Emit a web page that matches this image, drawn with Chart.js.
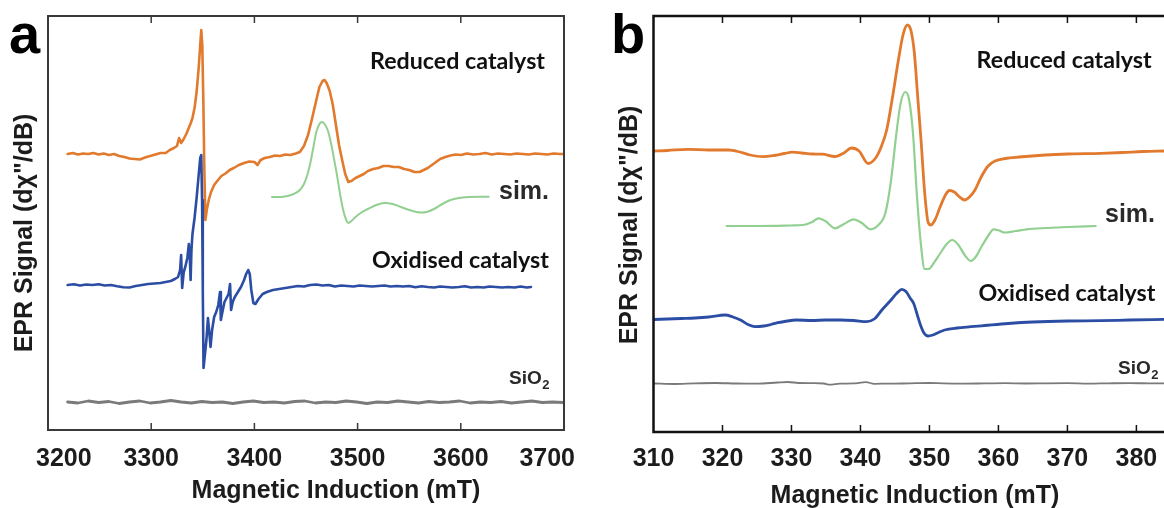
<!DOCTYPE html>
<html><head><meta charset="utf-8">
<script src="https://cdn.jsdelivr.net/npm/chart.js@4.4.1/dist/chart.umd.min.js"></script>
<style>
html,body{margin:0;padding:0;background:#fff;width:1164px;height:508px;overflow:hidden}
#wa{position:absolute;left:0;top:0;width:580px;height:508px}
#wb{position:absolute;left:580px;top:0;width:584px;height:508px}
canvas{display:block}
</style></head><body>
<div id="wa"><canvas id="ca" width="580" height="508"></canvas></div>
<div id="wb"><canvas id="cb" width="584" height="508"></canvas></div>
<script>
// ---------- Panel a (mT) ----------
const aTicks = [3200, 3300, 3400, 3500, 3600, 3700];

const aReducedField = [3219,3224,3229,3234,3239,3244,3249,3254,3259,3264,
  3269,3274,3279,3284,3289,3294,3299,3304,3309,3314,
  3318,3322,3325,3327,3329,3331,3334,3336,3338,3340,
  3342,3344,3346,3347.5,3348.5,3349.5,3350.5,3351.5,3352.5,3354,
  3356,3358,3361,3364,3368,3372,3376,3380,3385,3390,
  3395,3400,3403,3406,3410,3415,3420,3425,3430,3435,
  3440,3444,3448,3452,3456,3460,3463,3466,3468,3470,
  3473,3476,3479,3482,3485,3488,3491,3494,3498,3502,
  3506,3510,3515,3520,3525,3530,3535,3540,3545,3550,
  3555,3560,3564,3568,3572,3576,3580,3585,3590,3595,
  3600,3606,3612,3618,3624,3630,3636,3642,3648,3654,
  3660,3666,3672,3678,3684,3690,3696,3700];
const aReducedSignal = [276,277,275.5,276.5,276,277,275.5,276.5,275,276,
  274,273,271.5,271,270.5,272.5,274,275.5,277,277,
  280,282,284,292,287,290,296,301,306,312,
  322,338,362,385,400,385,330,260,210,221,
  231,238,245,249,254,256.5,260,262,265,267,
  268.5,268,265,270,272,273,274.5,274,275.5,275,
  276.5,278,284,295,312,330,343,349,350,347,
  339,325,305,285,270,256,248,249,252,254,
  256,259,261,262,264,264,263,263,261,260,
  258,258,260,262,265,268,271,273,274.5,275.5,
  275,276.5,275.5,276,277,275.5,276.5,276,275.5,276.5,
  276,275.5,276.5,276,275.5,276.5,276,276];

const aSimField = [3417,3425,3432,3438,3444,3448,3451,3454,3457,3460,
  3463,3465.5,3468,3471,3474,3477,3480,3483,3486,3489,
  3491,3494,3498,3503,3510,3518,3526,3534,3542,3550,
  3557,3562,3567,3574,3582,3590,3598,3608,3618,3627];
const aSimSignal = [233,233,234,236,240,246,254,266,282,298,
  306,308,306,300,288,272,255,236,220,210,
  207,209,213,217,221,225,227,226,223,220,
  218,217.5,218,221,226,230,232,233,233.3,233.3];

const aOxidisedField = [3219,3225,3231,3237,3243,3249,3255,3261,3267,3273,
  3279,3285,3291,3297,3303,3309,3314,3319,3323,3326,
  3328,3329,3330,3331.5,3333,3335,3336.5,3337.5,3338.2,3339,
  3340,3342,3344,3346,3347.5,3348.5,3349.3,3350,3350.7,3352,
  3353.5,3355,3356.5,3357.5,3359,3361,3363,3365,3366.7,3367.5,
  3369,3371,3373,3375,3376.4,3377.4,3379,3381,3384,3387,
  3390,3392,3394,3395.5,3397,3399,3401,3404,3408,3412,
  3418,3424,3430,3436,3442,3448,3454,3460,3466,3472,
  3478,3484,3490,3496,3502,3508,3514,3520,3526,3532,
  3538,3544,3550,3556,3562,3568,3574,3580,3586,3592,
  3598,3604,3610,3616,3622,3628,3634,3640,3646,3652,
  3658,3664,3668];
const aOxidisedSignal = [145,145.8,144.5,145.5,145,145.8,144.5,145,143.8,142.8,
  142.5,144,145,146,146.5,147,148,149,151,153,
  160,175,142,158,163,172,186,170,150,180,
  196,212,232,255,272,275,230,140,62,75,
  90,112,95,83,100,113,118,125,138,110,
  118,128,132,136,146,120,128,133,138,143,
  150,156,160,156,140,127,126,131,136,138,
  140,141,142,143,144,143.5,145,145.5,144.5,145,
  143.5,144.5,144,143.5,144.5,144,143.5,144,144.5,143.5,
  144,143.5,144,142.8,143.8,143,142.5,143.5,143,142.5,
  143,143.8,142.5,143,142.5,143.5,143,142.5,143,142.5,
  143.5,142.5,143];

const aSiO2Field = [3219,3229,3239,3249,3259,3269,3279,3289,3299,3309,
  3319,3329,3339,3349,3359,3369,3379,3389,3399,3409,
  3419,3429,3439,3449,3459,3469,3479,3489,3499,3509,
  3519,3529,3539,3549,3559,3569,3579,3589,3599,3609,
  3619,3629,3639,3649,3659,3669,3679,3689,3699];
const aSiO2Signal = [28,27,29,27.5,28.5,26.5,28,29,27,28,
  29.5,28,27,28.5,27.5,28,26.5,28,29,27.5,
  28,27,28.5,29,27,28,27.5,29,28,26.5,
  28,27.5,29,28,27,28.5,27.5,28,29,27,
  28,27.5,28.5,27,28,29,27.5,28,27.5];

// ---------- Panel b (mT) ----------
const bTicks = [310, 320, 330, 340, 350, 360, 370, 380];

const bReducedField = [310,312,315,318,320.9,322.5,324,325.9,327.5,329,
  330.1,331.5,333,334.5,336.3,337.6,338.7,339.8,341.1,342.2,
  343,343.8,344.7,345.5,346.2,346.8,347.3,347.8,348.3,348.8,
  349.3,349.8,350.2,350.8,351.6,352.4,352.9,353.6,354.3,355.1,
  355.8,356.6,357.5,358.5,359.5,361,363,366.8,370,374.9,
  378,381,384];
const bReducedSignal = [281,281.5,282.7,282,282,280,277,275.3,276.5,278.5,
  279.8,279,278,277.8,275.5,279,284,281,268.5,274,
  285,302,337,372,398,407,402,380,335,290,
  240,210,207,212,226,238,241.5,240,235.5,232,
  235,242,255,266,271,273.5,275,277,278,278.7,
  279.5,280.5,281];

const bSimField = [320.6,325,330,331.7,333,333.9,334.9,336.3,337.6,339,
  340.2,341.4,342.6,343.6,344.4,345.2,345.8,346.5,347,347.6,
  348.2,348.8,349.3,349.9,350.6,351.6,352.5,353.3,354.2,355.1,
  356,356.8,357.6,358.5,359.3,360.1,360.9,362.5,364.1,367,
  370,374.1];
const bSimSignal = [206,206,206.5,207,210,213.7,211,203.7,208,212.7,
  209,202.7,207,218.7,250,298,328,340,334,300,
  235,185,163,163,168.7,179,188,192,187,177,
  171,176,186,196,202.7,201.5,199.5,201,202.7,204,
  205,206];

const bOxidisedField = [310,312,314,316,318,320.4,321.5,322.6,323.7,324.7,
  326,327,328,329,330.7,333,335,337.1,339,340.9,
  342,343.1,344.3,345.3,346,346.6,347.2,347.7,348.2,348.7,
  349.2,349.8,350.5,351.3,352.2,354,356,358,361.4,365,
  370,374.9,379,384];
const bOxidisedSignal = [112.5,113,113.5,114,115,117,115,112,107.5,105.3,
  106,107.5,109.3,110.5,112,111.5,112,112,111.5,110.3,
  113,122,131,139,142.7,140.5,134,128.7,118,107,
  99,96,97,99.5,102,104,105.3,106.5,108.5,110,
  111,111.3,112,112.7];

const bSiO2Field = [310,313,316,319,322,325,328,329.5,331,333,
  334.7,335.5,337,339,340.8,342,344,346,348,350,
  352,355,358,361,364,367,370,373,376,379,382,384];
const bSiO2Signal = [48.5,48,48.7,49,48.5,48.3,49.5,50,49,48.8,
  48.5,47.3,48.3,48.6,49.8,48.2,48.4,48.5,48.8,49,
  48.6,48.4,48.6,48.8,48.5,48.7,48.8,48.4,48.7,48.9,48.6,48.7];

// ---------- helpers ----------
const ORANGE = '#E17A2D', BLUE = '#2C4DA4', GREEN = '#92D092', GRAY = '#7A7A7A';
const pairs = (xs, ys) => xs.map((x, i) => ({x: x, y: ys[i]}));
const TICKFONT = '"Liberation Sans", Arial, sans-serif';

function fitSize(ctx, text, weight, family, target) {
  ctx.font = weight + ' 20px ' + family;
  return 20 * target / ctx.measureText(text).width;
}

const decor = {
  id: 'decor',
  afterDatasetsDraw(chart, args, o) {
    const ctx = chart.ctx, ca = chart.chartArea, x = chart.scales.x;
    ctx.save();
    ctx.strokeStyle = o.frameColor; ctx.lineWidth = o.frameWidth; ctx.lineCap = 'square';
    ctx.beginPath();
    ctx.moveTo(ca.left, ca.top); ctx.lineTo(ca.right + (o.rightSide ? 0 : 5), ca.top);
    ctx.moveTo(ca.left, ca.top); ctx.lineTo(ca.left, ca.bottom);
    ctx.moveTo(ca.left, ca.bottom); ctx.lineTo(ca.right + (o.rightSide ? 0 : 5), ca.bottom);
    if (o.rightSide) { ctx.moveTo(ca.right, ca.top); ctx.lineTo(ca.right, ca.bottom); }
    ctx.stroke();
    ctx.lineWidth = 1.5; ctx.lineCap = 'butt';
    ctx.beginPath();
    o.ticks.forEach(v => {
      const px = x.getPixelForValue(v);
      if (px <= ca.left + 2 || px >= ca.right - 2) return;
      ctx.moveTo(px, ca.top); ctx.lineTo(px, ca.top + 7);
      ctx.moveTo(px, ca.bottom); ctx.lineTo(px, ca.bottom - 7);
    });
    ctx.stroke();
    ctx.fillStyle = '#1c1c1c';
    ctx.font = 'bold 25px ' + TICKFONT;
    ctx.textAlign = 'center'; ctx.textBaseline = 'alphabetic';
    o.ticks.forEach(v => {
      const label = String(v);
      const w = ctx.measureText(label).width;
      let c = x.getPixelForValue(v);
      if (o.inset) {
        c = Math.max(c, ca.left - o.inset[0] + w / 2);
        c = Math.min(c, ca.right + o.inset[1] - w / 2);
      }
      ctx.fillText(label, c, o.tickLabelY);
    });
    ctx.fillText('Magnetic Induction (mT)', o.xTitle[0], o.xTitle[1]);
    ctx.save();
    ctx.translate(o.yTitle[0], o.yTitle[1]);
    ctx.rotate(-Math.PI / 2);
    ctx.textBaseline = 'middle';
    ctx.font = 'bold 25px ' + TICKFONT;
    ctx.fillText('EPR Signal (d\u03C7"/dB)', 0, 0);
    ctx.restore();
    ctx.textAlign = 'left';
    ctx.fillStyle = '#000';
    ctx.font = 'bold 56px ' + TICKFONT;
    ctx.fillText(o.letter[0], o.letter[1], o.letter[2]);
    const lf = '"Lato", "Open Sans", sans-serif';
    const sz = fitSize(ctx, 'Reduced catalyst', 'bold', lf, 175);
    ctx.font = 'bold ' + sz.toFixed(2) + 'px ' + lf;
    ctx.fillStyle = '#111';
    ctx.fillText('Reduced catalyst', o.reduced[0], o.reduced[1]);
    ctx.fillText('Oxidised catalyst', o.oxidised[0], o.oxidised[1]);
    ctx.fillStyle = '#2a2a2a';
    ctx.font = 'bold 25px ' + TICKFONT;
    ctx.fillText('sim.', o.sim[0], o.sim[1]);
    ctx.font = 'bold 19px ' + TICKFONT;
    ctx.fillText('SiO', o.sio2[0], o.sio2[1]);
    const ws = ctx.measureText('SiO').width;
    ctx.font = 'bold 13px ' + TICKFONT;
    ctx.fillText('2', o.sio2[0] + ws + 0.5, o.sio2[1] + 5);
    ctx.restore();
  }
};

function makeChart(id, datasets, xMin, xMax, yMax, padding, decorOpts) {
  return new Chart(document.getElementById(id), {
    type: 'line',
    data: { datasets: datasets },
    options: {
      responsive: false, animation: false, devicePixelRatio: 1,
      layout: { padding: padding },
      elements: { point: { radius: 0 }, line: { borderJoinStyle: 'round', borderCapStyle: 'round' } },
      scales: {
        x: { type: 'linear', min: xMin, max: xMax, display: false },
        y: { type: 'linear', min: 0, max: yMax, display: false }
      },
      plugins: { legend: { display: false }, tooltip: { enabled: false }, decor: decorOpts }
    },
    plugins: [decor]
  });
}

makeChart('ca', [
  { label: 'Oxidised catalyst', data: pairs(aOxidisedField, aOxidisedSignal), borderColor: BLUE, borderWidth: 2.6, tension: 0 },
  { label: 'Reduced catalyst', data: pairs(aReducedField, aReducedSignal), borderColor: ORANGE, borderWidth: 2.6, tension: 0 },
  { label: 'sim.', data: pairs(aSimField, aSimSignal), borderColor: GREEN, borderWidth: 2, cubicInterpolationMode: 'monotone' },
  { label: 'SiO2', data: pairs(aSiO2Field, aSiO2Signal), borderColor: GRAY, borderWidth: 2.8, tension: 0 }
], 3200, 3700, 414, { left: 48, top: 16, right: 16, bottom: 78 }, {
  ticks: aTicks, frameColor: '#3a3a3a', frameWidth: 2, rightSide: true,
  inset: [12, 11], tickLabelY: 466, xTitle: [336, 498], yTitle: [25, 233],
  letter: ['a', 9, 53], reduced: [370, 69], oxidised: [372, 268], sim: [499, 199], sio2: [509, 384]
});

makeChart('cb', [
  { label: 'Reduced catalyst', data: pairs(bReducedField, bReducedSignal), borderColor: ORANGE, borderWidth: 2.8, cubicInterpolationMode: 'monotone' },
  { label: 'sim.', data: pairs(bSimField, bSimSignal), borderColor: GREEN, borderWidth: 2.2, cubicInterpolationMode: 'monotone' },
  { label: 'Oxidised catalyst', data: pairs(bOxidisedField, bOxidisedSignal), borderColor: BLUE, borderWidth: 2.8, cubicInterpolationMode: 'monotone' },
  { label: 'SiO2', data: pairs(bSiO2Field, bSiO2Signal), borderColor: GRAY, borderWidth: 1.8, cubicInterpolationMode: 'monotone' }
], 310, 384, 416, { left: 73.5, top: 16, right: 0, bottom: 76 }, {
  ticks: bTicks, frameColor: '#111', frameWidth: 2.5, rightSide: false,
  inset: null, tickLabelY: 466, xTitle: [335, 503], yTitle: [50, 225],
  letter: ['b', 31, 53], reduced: [396.6, 68], oxidised: [398.5, 301], sim: [525, 222], sio2: [538, 374]
});
</script>
</body></html>
